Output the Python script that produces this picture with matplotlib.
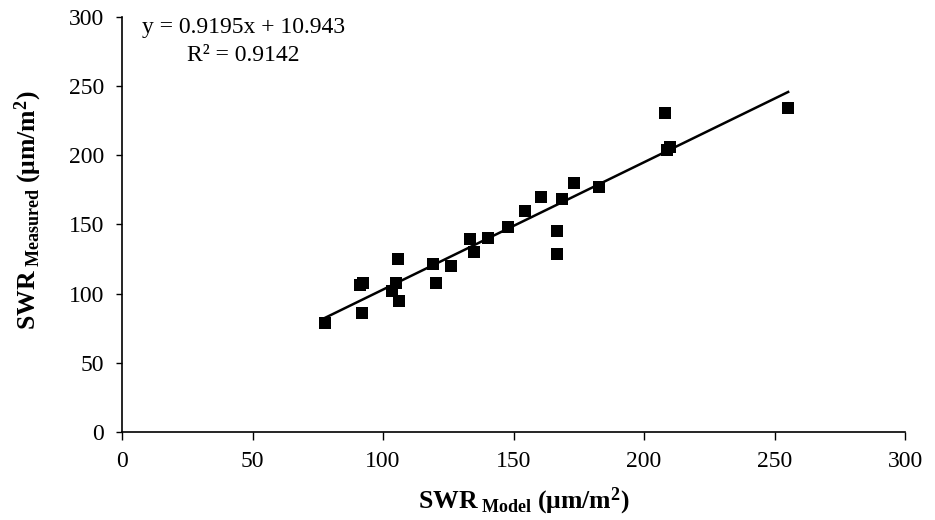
import matplotlib
matplotlib.use("Agg")
import matplotlib.pyplot as plt
import numpy as np

plt.rcParams['font.family'] = ['Liberation Serif', 'DejaVu Serif']
plt.rcParams['mathtext.fontset'] = 'custom'
plt.rcParams['mathtext.rm'] = 'Liberation Serif'
plt.rcParams['mathtext.bf'] = 'Liberation Serif:bold'
plt.rcParams['mathtext.it'] = 'Liberation Serif:italic'

# Data
swr_model = [77.7, 91.0, 92.2, 105.7, 105.1, 103.5, 106.3, 91.9, 119.1, 120.4,
             126.1, 133.5, 134.8, 140.1, 147.8, 154.2, 160.6, 168.6, 173.3, 182.9,
             166.5, 166.5, 208.1, 208.8, 210.0, 255.2]
swr_measured = [78.6, 106.0, 107.3, 125.3, 107.3, 102.0, 94.5, 86.1, 121.7, 107.7,
                120.0, 139.2, 130.1, 140.2, 148.1, 159.5, 169.8, 168.6, 180.2, 177.0,
                145.0, 128.9, 230.4, 204.0, 206.0, 234.3]
slope = 0.9195
intercept = 10.943
r2 = 0.9142
ticks = [0, 50, 100, 150, 200, 250, 300]

fig = plt.figure(figsize=(9.35, 5.2), dpi=100)
ax = fig.add_axes([0.1305, 0.1692, 0.8375, 0.7988])

x = np.array(swr_model)
y = np.array(swr_measured)
ax.scatter(x, y, marker='s', s=85, color='black', zorder=3, linewidths=0)
xl = np.array([x.min(), x.max()])
ax.plot(xl, slope * xl + intercept, color='black', lw=1.8, zorder=2)

ax.set_xlim(0, 300)
ax.set_ylim(0, 300)
ax.set_xticks(ticks)
ax.set_yticks(ticks)
ax.tick_params(axis='x', direction='out', length=5.5, width=1, labelsize=17, pad=8)
ax.tick_params(axis='y', direction='out', length=4, width=1, labelsize=17, pad=9)
for s in ['top', 'right']:
    ax.spines[s].set_visible(False)
for s in ['left', 'bottom']:
    ax.spines[s].set_linewidth(1.2)

ax.text(46.5, 292, f'y = {slope}x + {intercept}', ha='center', va='center', fontsize=17)
ax.text(46.5, 272, f'R² = {r2}', ha='center', va='center', fontsize=17)

fig.text(0.56, 0.035, r'$\mathbf{SWR}_{\ \mathbf{Model}}\ \mathbf{(μm/m^2)}$',
         ha='center', va='center', fontsize=18.5)
fig.text(0.03, 0.596, r'$\mathbf{SWR}_{\ \mathbf{Measured}}\ \mathbf{(μm/m^2)}$',
         ha='center', va='center', fontsize=18.5, rotation=90)

fig.savefig('out.png', dpi=100)
